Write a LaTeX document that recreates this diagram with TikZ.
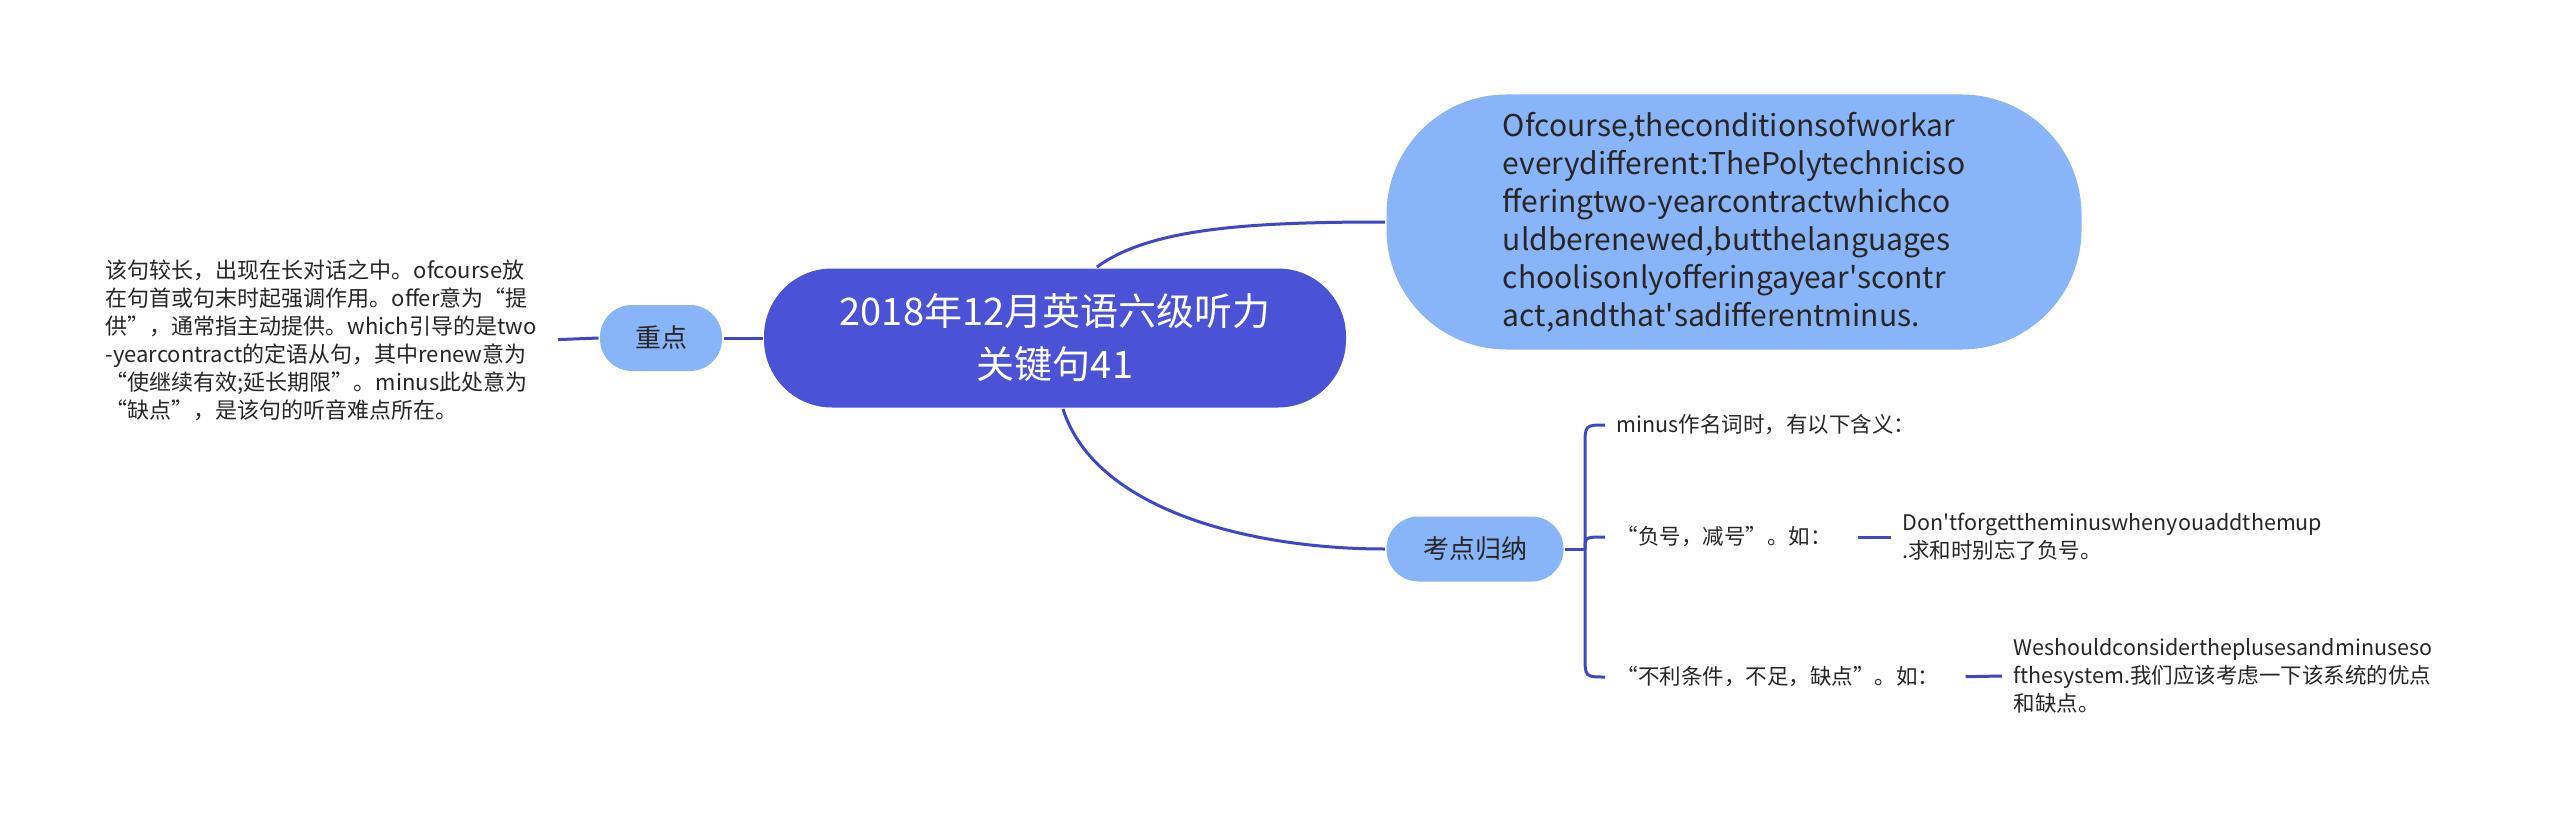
\documentclass[tikz,border=0pt]{standalone}
\usepackage{fontspec}
\setmainfont{Noto Sans CJK SC}
\usepackage{tikz}
\usetikzlibrary{calc}

\definecolor{rootblue}{HTML}{4A52D6}
\definecolor{leafblue}{HTML}{8AB4F8}
\definecolor{wireblue}{HTML}{3F47C8}

\begin{document}
\begin{tikzpicture}[x=1pt, y=-1pt, line width=3pt, draw=wireblue,
    note/.style={font=\fontsize{21.5}{28}\selectfont, text=black!85, align=left, inner xsep=10pt, inner ysep=0pt},
    topic/.style={fill=leafblue, rounded corners=32pt, minimum height=66pt, font=\fontsize{26}{30}\selectfont, text=black!85}]
        \useasboundingbox[fill=white] (0,0) rectangle (2560,824);

        % Root in the middle.
        \node[fill=rootblue, rounded corners=68pt, minimum width=582pt, minimum height=139pt, align=center,
        text=white, font=\fontsize{38}{53}\selectfont] (root) at (1055,338) {2018年12月英语六级听力\\关键句41};

        % Left branch: key point.
        \node[topic, minimum width=122pt] (zhongdian) at (661,338) {重点};
        \node[note, anchor=east, font=\fontsize{22}{28}\selectfont] (jieshi) at (548,340)
        {该句较长，出现在长对话之中。ofcourse放\\在句首或句末时起强调作用。offer意为“提\\供”，通常指主动提供。which引导的是two\\-yearcontract的定语从句，其中renew意为\\“使继续有效;延长期限”。minus此处意为\\“缺点”，是该句的听音难点所在。};
        \draw (root.west) -- (zhongdian.east);
        \draw[shorten >=10pt] (zhongdian.west) -- (jieshi.east);

        % Top right: the sentence itself.
        \node[fill=leafblue, rounded corners=120pt, minimum width=695pt, minimum height=255pt, align=left,
        text=black!85, font=\fontsize{30}{38}\selectfont] (juzi) at (1734,222)
        {Ofcourse,theconditionsofworkar\\everydifferent:ThePolytechniciso\\fferingtwo-yearcontractwhichco\\uldberenewed,butthelanguages\\choolisonlyofferingayear\textquotesingle scontr\\act,andthat\textquotesingle sadifferentminus.};
        \draw ($(root.north)+(42,0)$) .. controls (1150,228) and (1250,222) .. (juzi.west);

        % Bottom right: summary of the test point.
        \node[topic, minimum width=177pt, minimum height=65pt] (kaodian) at (1475,549) {考点归纳};
        \draw ($(root.south)+(8,0)$) .. controls (1095,510) and (1250,549) .. (kaodian.west);

        \node[note, anchor=west] (yiyi) at (1605,425) {minus作名词时，有以下含义：};
        \node[note, anchor=west] (fuhao) at (1605,537) {“负号，减号”。如：};
        \node[note, anchor=west] (quedian) at (1605,677) {“不利条件，不足，缺点”。如：};
        \node[note, anchor=west] (li1) at (1891,537) {Don\textquotesingle tforgettheminuswhenyouaddthemup\\.求和时别忘了负号。};
        \node[note, anchor=west] (li2) at (2002,676) {Weshouldconsidertheplusesandminuseso\\fthesystem.我们应该考虑一下该系统的优点\\和缺点。};

        % Brace to the three notes.
        \coordinate (kou) at (1585,549);
        \draw (kaodian.east) -- (kou);
        \draw (kou) -- (1585,447) .. controls (1585,425) .. (yiyi.west);
        \draw (kou) .. controls (1585,537) .. (fuhao.west);
        \draw (kou) -- (1585,655) .. controls (1585,677) .. (quedian.west);
        \draw[shorten <=15pt] (fuhao.east) -- (li1.west);
        \draw[shorten <=15pt] (quedian.east) -- (li2.west);
    \end{tikzpicture}
\end{document}
